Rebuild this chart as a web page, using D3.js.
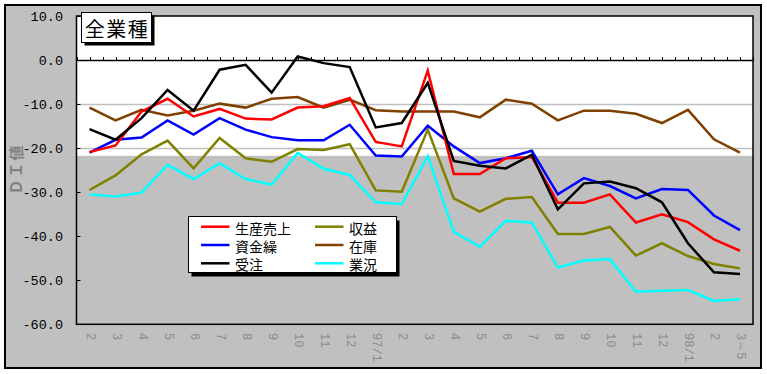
<!DOCTYPE html>
<html><head><meta charset="utf-8">
<script src="https://cdn.jsdelivr.net/npm/d3@7"></script>
<style>body{margin:0;background:#fff}svg{display:block}</style>
</head><body>
<svg id="c" width="767" height="374"></svg>
<script>
const categories = ["2","3","4","5","6","7","8","9","10","11","12","97/1","2","3","4","5","6","7","8","9","10","11","12","98/1","2","3～5"];
const seriesNames = ["生産売上","資金繰","受注","収益","在庫","業況"];
const seriesColors = ["#ff0000","#0000ff","#000000","#808000","#804000","#00ffff"];
const sales = [-20.9,-19.4,-11.7,-8.8,-12.8,-11.1,-13.3,-13.5,-10.8,-10.5,-8.6,-18.6,-19.6,-2.4,-25.9,-25.9,-22.3,-22.0,-32.4,-32.4,-30.5,-36.9,-35.0,-36.8,-40.7,-43.3];
const funds = [-21.0,-18.1,-17.6,-13.7,-16.9,-13.2,-15.8,-17.5,-18.2,-18.2,-14.7,-21.7,-21.9,-14.9,-19.6,-23.4,-22.3,-20.6,-30.5,-26.8,-28.6,-31.4,-29.3,-29.5,-35.3,-38.6];
const orders = [-15.7,-18.1,-13.2,-6.8,-11.5,-2.2,-1.1,-7.4,0.8,-0.7,-1.6,-15.3,-14.3,-5.2,-22.9,-24.0,-24.6,-21.5,-33.9,-28.0,-27.6,-29.1,-32.3,-41.6,-48.2,-48.6];
const profit = [-29.5,-26.2,-21.4,-18.3,-24.6,-17.7,-22.3,-23.1,-20.2,-20.4,-19.1,-29.6,-29.9,-15.8,-31.4,-34.4,-31.5,-31.1,-39.5,-39.5,-37.9,-44.4,-41.6,-44.5,-46.3,-47.3];
const stock = [-10.8,-13.7,-11.3,-12.6,-11.5,-9.9,-10.8,-8.8,-8.4,-10.8,-9.0,-11.4,-11.7,-11.7,-11.7,-13.0,-9.0,-9.9,-13.7,-11.5,-11.5,-12.2,-14.3,-11.3,-18.0,-21.0];
const business = [-30.5,-31.0,-30.1,-23.8,-27.0,-23.4,-27.0,-28.3,-21.1,-24.7,-26.1,-32.3,-32.7,-21.8,-39.0,-42.4,-36.5,-36.9,-47.1,-45.5,-45.2,-52.6,-52.4,-52.2,-54.7,-54.3];
const seriesValues = [sales, funds, orders, profit, stock, business];
const yTicks = [10,0,-10,-20,-30,-40,-50,-60];
const shadeTop = -21.75;
const chartTitle = "全業種";
const yTitle = "ＤＩ値";

const svg = d3.select("#c");
const L = 76.5, R = 753, T = 16, B = 324.3;
const x = d3.scaleBand().domain(d3.range(categories.length)).range([L, R]).padding(0);
const y = d3.scaleLinear().domain([-60, 10]).range([B, T]);
const cx = i => x(i) + x.bandwidth() / 2;

// outer frame
svg.append("rect").attr("x",5).attr("y",5).attr("width",756).attr("height",363)
  .attr("fill","#c0c0c0").attr("stroke","#000").attr("stroke-width",2);

// plot area (white upper part)
svg.append("rect").attr("x",L).attr("y",T).attr("width",R-L).attr("height",y(shadeTop)-T).attr("fill","#fff");

// gridlines
svg.append("g").selectAll("line").data(yTicks.filter(v=>v<10 && v>shadeTop && v!==0)).join("line")
  .attr("x1",L).attr("x2",R).attr("y1",d=>Math.round(y(d))+0.5).attr("y2",d=>Math.round(y(d))+0.5)
  .attr("stroke","#c0c0c0").attr("stroke-width",1.5);

// y ticks (inward)
svg.append("g").selectAll("line").data(yTicks).join("line")
  .attr("x1",L).attr("x2",L+4).attr("y1",d=>Math.round(y(d))+0.5).attr("y2",d=>Math.round(y(d))+0.5)
  .attr("stroke","#000");

// y labels
svg.append("g").selectAll("text").data(yTicks).join("text")
  .attr("x",63).attr("y",d=>y(d)+1).attr("text-anchor","end").attr("dominant-baseline","central")
  .attr("font-family","Liberation Mono, DejaVu Sans Mono, monospace").attr("font-size",13.5)
  .text(d=>d3.format(".1f")(d).replace("−","-"));

// zero axis
const zy = Math.round(y(0))+0.5;
svg.append("line").attr("x1",L).attr("x2",R).attr("y1",zy).attr("y2",zy).attr("stroke","#000").attr("stroke-width",1.5);
const half = x.bandwidth()/2;
svg.append("g").selectAll("line").data(d3.range(categories.length*2+1)).join("line")
  .attr("x1",d=>Math.round(L+d*half)+0.5).attr("x2",d=>Math.round(L+d*half)+0.5)
  .attr("y1",zy-3.5).attr("y2",zy).attr("stroke","#000");

// plot border
svg.append("rect").attr("x",L).attr("y",T).attr("width",R-L).attr("height",B-T)
  .attr("fill","none").attr("stroke","#000").attr("stroke-width",1.5);

// series lines
const line = d3.line().x((d,i)=>cx(i)).y(d=>y(d));
const drawOrder = [5,3,4,1,0,2];
drawOrder.forEach(k=>{
  svg.append("path").datum(seriesValues[k]).attr("d",line).attr("fill","none")
    .attr("stroke",seriesColors[k]).attr("stroke-width",2.5).attr("stroke-linejoin","miter");
});

// x labels (rotated)
svg.append("g").selectAll("text").data(categories).join("text")
  .attr("transform",(d,i)=>`translate(${cx(i)},333) rotate(90)`)
  .attr("dominant-baseline","central").attr("fill","#8a8a8a")
  .attr("font-family","Liberation Mono, DejaVu Sans Mono, monospace").attr("font-size",12)
  .text(d=>d);

// y title
svg.append("text").attr("transform","translate(15,169) rotate(-90)")
  .attr("text-anchor","middle").attr("dominant-baseline","central")
  .attr("fill","#808080").attr("font-weight","bold").attr("letter-spacing",2)
  .attr("font-family","Noto Sans CJK JP").attr("font-size",15).text(yTitle);

// title box
svg.append("rect").attr("x",84.5).attr("y",15.5).attr("width",70).attr("height",30).attr("fill","#000");
svg.append("rect").attr("x",81.5).attr("y",12.5).attr("width",70).attr("height",30).attr("fill","#fff").attr("stroke","#000");
svg.append("text").attr("x",117).attr("y",28).attr("text-anchor","middle").attr("dominant-baseline","central")
  .attr("font-family","Noto Sans CJK JP").attr("font-size",20).attr("letter-spacing",1.5).text(chartTitle);

// legend
const lg = svg.append("g");
lg.append("rect").attr("x",191.5).attr("y",220.5).attr("width",208).attr("height",56).attr("fill","#000");
lg.append("rect").attr("x",188.5).attr("y",216.5).attr("width",208).attr("height",56).attr("fill","#fff").attr("stroke","#000");
seriesNames.forEach((n,k)=>{
  const col = Math.floor(k/3), row = k%3;
  const lx = col===0 ? 201 : 315;
  const ly = 226.7 + row*18.3;
  lg.append("line").attr("x1",lx).attr("x2",lx+28.5).attr("y1",ly).attr("y2",ly)
    .attr("stroke",seriesColors[k]).attr("stroke-width",2.5);
  lg.append("text").attr("x",lx+34).attr("y",ly+1).attr("dominant-baseline","central")
    .attr("font-family","Noto Sans CJK JP").attr("font-size",14).text(n);
});
</script>
</body></html>
